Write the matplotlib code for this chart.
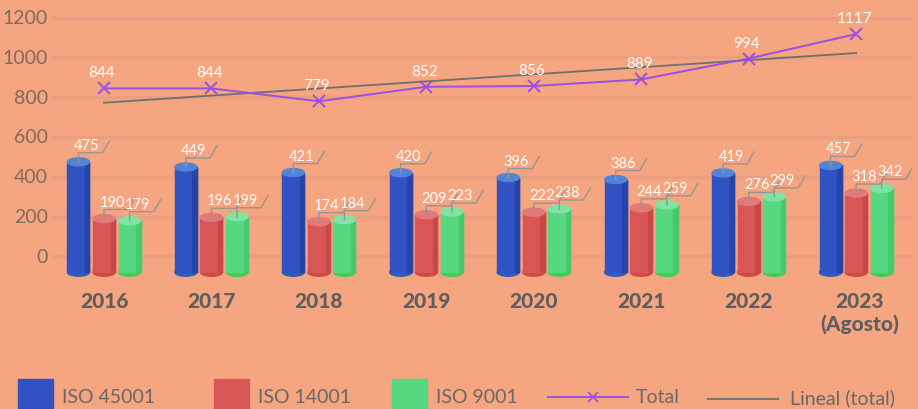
import numpy as np
import matplotlib.pyplot as plt
from matplotlib.patches import Ellipse, Rectangle
from matplotlib.lines import Line2D

# Data
years = ['2016', '2017', '2018', '2019', '2020', '2021', '2022', '2023\n(Agosto)']
iso45001 = [475, 449, 421, 420, 396, 386, 419, 457]
iso14001 = [190, 196, 174, 209, 222, 244, 276, 318]
iso9001 = [179, 199, 184, 223, 238, 259, 299, 342]
total = [844, 844, 779, 852, 856, 889, 994, 1117]
yticks = [0, 200, 400, 600, 800, 1000, 1200]

bg = '#F5A57F'
grid_c = '#EA9F81'
txt_gray = '#7f6a5f'
dark = '#5e5e5e'
leader_c = '#9a9590'

# bar styles: body, right shade, top, bottom
styles = [
    ('#3152C2', '#2643A8', '#5284D6', '#2B5FBA'),
    ('#D95656', '#C94747', '#E27A7A', '#D04848'),
    ('#56D880', '#46C96C', '#7FE3A3', '#40CC58'),
]

fig = plt.figure(figsize=(9.18, 4.10), dpi=100)
fig.patch.set_facecolor(bg)

W, H = 918, 410
ax_left, ax_right, ax_top, ax_bot = 52, 912, 10, 285
ax = fig.add_axes([ax_left / W, (H - ax_bot) / H, (ax_right - ax_left) / W, (ax_bot - ax_top) / H])
ax.set_facecolor('none')
ax.set_xlim(-0.484, 7.52)
ax.set_ylim(-139, 1243)
for s in ax.spines.values():
    s.set_visible(False)
ax.set_xticks([])
ax.set_yticks([])

for t in yticks:
    ax.axhline(t, color=grid_c, lw=2.5, zorder=0)
    ax.text(-0.52, t, str(t), ha='right', va='center', fontsize=14,
            color=txt_gray, family='Lato', clip_on=False)

x = np.arange(len(years))
bar_w = 0.205
offset = 0.238
bottom = -80
ell_h = 40

def px_to_data(xd, yd, dx, dy):
    p = ax.transData.transform((xd, yd))
    return ax.transData.inverted().transform((p[0] + dx, p[1] + dy))

series = [iso45001, iso14001, iso9001]
for k, vals in enumerate(series):
    body, shade, top_c, bot_c = styles[k]
    for i, v in enumerate(vals):
        cx = x[i] + (k - 1) * offset
        ax.add_patch(Ellipse((cx, bottom), bar_w, ell_h, color=bot_c, zorder=2))
        ax.add_patch(Rectangle((cx - bar_w / 2, bottom), bar_w, v - bottom, color=body, zorder=3))
        ax.add_patch(Rectangle((cx + bar_w * 0.3, bottom), bar_w * 0.2, v - bottom, color=shade, zorder=3))
        ax.add_patch(Ellipse((cx, v), bar_w, ell_h, color=top_c, zorder=4))
        # leader line and label
        p0 = (cx, v)
        p1 = px_to_data(cx, v, 0, 9)
        p2 = px_to_data(cx, v, 24, 9)
        p3 = px_to_data(cx, v, 31, 21)
        ax.plot([p0[0], p1[0], p2[0], p3[0]], [p0[1], p1[1], p2[1], p3[1]],
                color=leader_c, lw=1, zorder=5)
        tp = px_to_data(cx, v, 8, 10)
        ax.text(tp[0], tp[1], str(v), ha='center', va='bottom', fontsize=10.5,
                color='white', family='Lato', zorder=6)

# Total line and linear trend
ax.plot(x, total, color='#9C4FE3', lw=1.4, marker='x', ms=9, mew=1.4, zorder=7)
coef = np.polyfit(x, total, 1)
trend_x = x[[0, -1]]
ax.plot(trend_x, np.polyval(coef, trend_x), color='#6f6f6f', lw=1.3, zorder=6)
for i, v in enumerate(total):
    tp = px_to_data(x[i], v, -2, 9)
    ax.text(tp[0], tp[1], str(v), ha='center', va='bottom', fontsize=11,
            color='white', family='Lato', zorder=8)

# Year labels
for i, y in enumerate(years):
    ax.text(x[i] + (0.03 if '\n' in y else 0), -175, y, ha='center', va='top',
            fontsize=15, fontweight='black', color=dark, family='Lato',
            linespacing=1.15, clip_on=False)

# Legend (drawn manually in figure pixels)
def fx(p):
    return p / W

def fy(p):
    return (H - p) / H

leg_items = [('ISO 45001', 18, styles[0][0]), ('ISO 14001', 214, styles[1][0]), ('ISO 9001', 392, styles[2][0])]
for label, x0, c in leg_items:
    fig.patches.append(Rectangle((fx(x0), fy(412)), fx(35), 32 / H, color=c,
                                 transform=fig.transFigure, figure=fig))
    fig.text(fx(x0 + 44), fy(398), label, ha='left', va='center', fontsize=14,
             color='#686868', family='Lato')

fig.add_artist(Line2D([fx(548), fx(628)], [fy(398), fy(398)], color='#9C4FE3', lw=1.4,
                      transform=fig.transFigure))
fig.add_artist(Line2D([fx(593)], [fy(398)], color='#9C4FE3', marker='x', ms=7, mew=1.2,
                      transform=fig.transFigure))
fig.text(fx(636), fy(398), 'Total', ha='left', va='center', fontsize=14,
         color='#686868', family='Lato')
fig.add_artist(Line2D([fx(708), fx(778)], [fy(400), fy(400)], color='#7a7470', lw=1.5,
                      transform=fig.transFigure))
fig.text(fx(790), fy(398), 'Lineal (total)', ha='left', va='center', fontsize=14,
         color='#686868', family='Lato')

fig.savefig('out.png', dpi=100, facecolor=bg)
